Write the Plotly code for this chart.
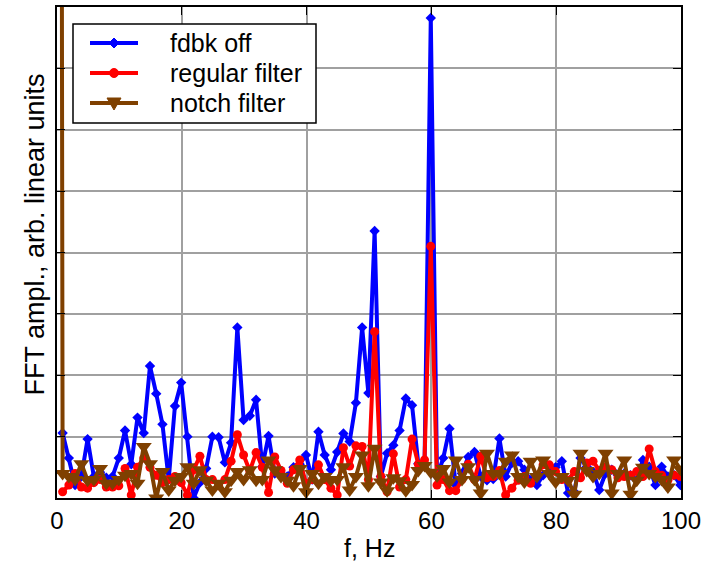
import plotly.graph_objects as go

# frequency bins (Hz)
freq = [round(0.9 + k, 1) for k in range(100)]
# the notch-filter record also carries the DC bin
notch_freq = [0.0] + freq

fdbk_off = [1.06, 0.65, 0.21, 0.35, 0.96, 0.35, 0.42, 0.33, 0.35, 0.65,
            1.10, 0.55, 1.31, 1.06, 2.15, 1.70, 1.20, 0.30, 1.50, 1.88,
            1.00, 0.00, 0.25, 0.48, 1.00, 0.99, 0.58, 0.90, 2.78, 1.27,
            1.34, 1.60, 0.51, 1.01, 0.40, 0.40, 0.35, 0.50, 0.55, 0.70,
            0.30, 1.08, 0.70, 0.46, 0.75, 1.05, 0.92, 1.55, 2.78, 1.71,
            4.35, 0.35, 0.73, 0.86, 1.10, 1.62, 1.51, 0.56, 0.55, 7.82,
            0.35, 0.65, 1.13, 0.21, 0.40, 0.67, 0.75, 0.35, 0.29, 0.31,
            0.97, 0.35, 0.57, 0.60, 0.46, 0.29, 0.21, 0.37, 0.43, 0.50,
            0.60, 0.08, 0.10, 0.65, 0.51, 0.43, 0.13, 0.40, 0.46, 0.37,
            0.40, 0.37, 0.29, 0.62, 0.51, 0.21, 0.51, 0.35, 0.37, 0.21]

regular_filter = [0.10, 0.21, 0.40, 0.18, 0.16, 0.25, 0.30, 0.18, 0.18, 0.20,
                  0.48, 0.05, 0.50, 0.65, 0.50, 0.37, 0.25, 0.30, 0.35, 0.25,
                  0.05, 0.46, 0.68, 0.30, 0.30, 0.20, 0.30, 0.60, 1.03, 0.70,
                  0.44, 0.74, 0.50, 0.09, 0.67, 0.45, 0.24, 0.46, 0.62, 0.24,
                  0.30, 0.54, 0.30, 0.16, 0.05, 0.82, 0.52, 0.85, 0.84, 0.30,
                  2.71, 0.35, 0.10, 0.72, 0.18, 0.30, 0.96, 0.55, 0.62, 4.10,
                  0.21, 0.30, 0.12, 0.12, 0.30, 0.55, 0.30, 0.68, 0.33, 0.35,
                  0.45, 0.05, 0.16, 0.29, 0.35, 0.24, 0.37, 0.54, 0.54, 0.43,
                  0.30, 0.29, 0.43, 0.33, 0.57, 0.60, 0.45, 0.51, 0.46, 0.33,
                  0.35, 0.37, 0.43, 0.35, 0.80, 0.43, 0.37, 0.29, 0.37, 0.35]

notch_filter = [60.0,
                0.40, 0.35, 0.30, 0.56, 0.29, 0.30, 0.48, 0.24, 0.24, 0.30,
                0.37, 0.40, 0.24, 0.84, 0.56, 0.00, 0.43, 0.13, 0.29, 0.35,
                0.51, 0.24, 0.46, 0.29, 0.13, 0.24, 0.10, 0.29, 0.43, 0.30,
                0.46, 0.29, 0.30, 0.62, 0.46, 0.35, 0.29, 0.20, 0.48, 0.10,
                0.40, 0.24, 0.35, 0.29, 0.30, 0.51, 0.13, 0.35, 0.70, 0.20,
                0.81, 0.26, 0.12, 0.33, 0.28, 0.12, 0.22, 0.45, 0.53, 0.42,
                0.36, 0.48, 0.26, 0.62, 0.30, 0.51, 0.30, 0.08, 0.73, 0.40,
                0.40, 0.60, 0.70, 0.35, 0.26, 0.60, 0.35, 0.62, 0.40, 0.26,
                0.35, 0.29, 0.06, 0.73, 0.45, 0.35, 0.40, 0.73, 0.08, 0.40,
                0.62, 0.06, 0.29, 0.50, 0.40, 0.35, 0.30, 0.18, 0.62, 0.47]

x_ticks = [0, 20, 40, 60, 80, 100]
series_names = ["fdbk off", "regular filter", "notch filter"]
series_colors = ["#0000FF", "#FF0000", "#7F4000"]

FONT = "Arial, Liberation Sans, sans-serif"
W, H = 722, 564
ML, MR, MT, MB = 57, 41, 7, 66
PW, PH = W - ML - MR, H - MT - MB


def px(xp):
    return (xp - ML) / PW


def py(yp):
    return (H - MB - yp) / PH


fig = go.Figure()
fig.add_trace(go.Scatter(x=freq, y=fdbk_off, mode="lines+markers", name=series_names[0],
                         line=dict(color=series_colors[0], width=4),
                         marker=dict(symbol="diamond", size=8, color=series_colors[0])))
fig.add_trace(go.Scatter(x=freq, y=regular_filter, mode="lines+markers", name=series_names[1],
                         line=dict(color=series_colors[1], width=4),
                         marker=dict(symbol="circle", size=9, color=series_colors[1])))
fig.add_trace(go.Scatter(x=notch_freq, y=notch_filter, mode="lines+markers", name=series_names[2],
                         line=dict(color=series_colors[2], width=4),
                         marker=dict(symbol="triangle-down", size=14, color=series_colors[2])))

axis_common = dict(showline=True, linecolor="black", linewidth=2, mirror="ticks",
                   ticks="inside", ticklen=8, tickcolor="black", tickwidth=1,
                   showgrid=True, gridcolor="#a0a0a0", gridwidth=1.5, zeroline=False,
                   automargin=False)

fig.update_xaxes(range=[0, 100], tickvals=x_ticks, ticktext=[str(t) for t in x_ticks],
                 tickfont=dict(size=24, color="black", family=FONT),
                 **axis_common)
fig.update_yaxes(range=[0, 8], dtick=1, showticklabels=False, **axis_common)

# ---- legend box drawn by hand (to match the compact row spacing) ----
shapes = [dict(type="rect", xref="paper", yref="paper",
               x0=px(73), x1=px(316), y0=py(123), y1=py(24),
               line=dict(color="black", width=1.5), fillcolor="white", layer="above")]
annotations = []
rows = [43, 73, 103]
for name, color, ry in zip(series_names, series_colors, rows):
    shapes.append(dict(type="line", xref="paper", yref="paper",
                       x0=px(90), x1=px(138), y0=py(ry), y1=py(ry),
                       line=dict(color=color, width=4), layer="above"))
    annotations.append(dict(text=name, x=px(168), y=py(ry), xref="paper", yref="paper",
                            xanchor="left", yanchor="middle", showarrow=False,
                            font=dict(size=25, color="black", family=FONT)))
cx = 114
# diamond
r = 5
shapes.append(dict(type="path", xref="paper", yref="paper", layer="above",
                   path=f"M {px(cx)} {py(rows[0]-r)} L {px(cx+r)} {py(rows[0])} "
                        f"L {px(cx)} {py(rows[0]+r)} L {px(cx-r)} {py(rows[0])} Z",
                   fillcolor=series_colors[0], line=dict(color=series_colors[0], width=1)))
# circle
r = 4.5
shapes.append(dict(type="circle", xref="paper", yref="paper", layer="above",
                   x0=px(cx-r), x1=px(cx+r), y0=py(rows[1]+r), y1=py(rows[1]-r),
                   fillcolor=series_colors[1], line=dict(color=series_colors[1], width=1)))
# triangle down
ty = rows[2]
shapes.append(dict(type="path", xref="paper", yref="paper", layer="above",
                   path=f"M {px(cx-7)} {py(ty-5)} L {px(cx+7)} {py(ty-5)} L {px(cx)} {py(ty+7)} Z",
                   fillcolor=series_colors[2], line=dict(color=series_colors[2], width=1)))

annotations += [
    dict(text="f, Hz", x=0.5, y=0, xref="paper", yref="paper",
         xanchor="center", yanchor="middle", yshift=-50, showarrow=False,
         font=dict(size=25, color="black", family=FONT)),
    dict(text="FFT ampl., arb. linear units", x=0, y=0.5, xref="paper", yref="paper",
         xanchor="center", yanchor="middle", xshift=-23, yshift=18, textangle=-90,
         showarrow=False, font=dict(size=27, color="black", family=FONT)),
]

fig.update_layout(
    width=W, height=H,
    margin=dict(l=ML, r=MR, t=MT, b=MB),
    paper_bgcolor="white", plot_bgcolor="white",
    font=dict(family=FONT, color="black"),
    showlegend=False,
    shapes=shapes,
    annotations=annotations,
)

fig.write_html("out.html", config={"displayModeBar": False},
               post_script="document.body.style.margin='0px';")
